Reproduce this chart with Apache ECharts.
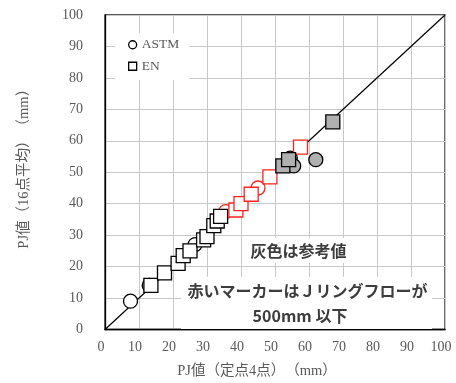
<!DOCTYPE html>
<html>
<head>
<meta charset="utf-8">
<script src="https://cdn.jsdelivr.net/npm/echarts@6/dist/echarts.min.js"></script>
<style>
  html, body { margin: 0; padding: 0; background: #fff; }
  #chart { width: 456px; height: 383px; }
</style>
</head>
<body>
<div id="chart"></div>
<script>
// Axis range shared by both axes (mm)
const axisMin = 0;
const axisMax = 100;
const axisStep = 10;

// ASTM results [PJ 4-point, PJ 16-point mean]
const astmWhite = [[7.5, 9], [13, 14], [26.5, 27]];
const astmRed = [[35.5, 37.5], [45, 45]];
const astmGray = [[54.5, 54.5], [55.5, 52], [62, 54]];

// EN results [PJ 4-point, PJ 16-point mean]
const enWhite = [[13.5, 14], [17.5, 18], [21.5, 21], [23, 23.5], [25, 25],
                 [29, 28.5], [30, 29.5], [32, 33], [33, 34.5], [34, 36]];
const enRed = [[38.5, 38], [40, 40], [43, 43], [48.5, 48.5], [57.5, 58]];
const enGray = [[52.3, 52], [54, 54], [67, 66]];

// 1:1 reference line
const equalityLine = [[0, 0], [100, 100]];

const xAxisTitle = 'PJ値（定点4点）　（mm）';
const yAxisTitle = 'PJ値（16点平均）　（mm）';
const noteGray = '灰色は参考値';
const noteRedLine1 = '赤いマーカーはＪリングフローが';
const noteRedLine2 = '500mm 以下';

const serif = "'Liberation Serif', 'Noto Sans CJK JP', serif";
const sans = "'Noto Sans CJK JP', 'Noto Sans', sans-serif";
const labelGray = '#595959';
const noteColor = '#3c3c3c';

function scatter(name, data, symbol, fill, stroke, z) {
  return {
    name: name,
    type: 'scatter',
    data: data,
    symbol: symbol,
    symbolSize: 14,
    z: z,
    itemStyle: { color: fill, borderColor: stroke, borderWidth: 1.3, opacity: 1 },
    emphasis: { disabled: true }
  };
}

const chart = echarts.init(document.getElementById('chart'), null, { renderer: 'canvas' });

chart.setOption({
  animation: false,
  backgroundColor: '#fff',
  grid: {
    left: 105, right: 11, top: 15, bottom: 53,
    show: true, borderColor: '#222', borderWidth: 1.3, backgroundColor: 'transparent'
  },
  xAxis: {
    type: 'value', min: axisMin, max: axisMax, interval: axisStep,
    name: xAxisTitle, nameLocation: 'middle', nameGap: 34,
    nameTextStyle: { fontFamily: serif, fontSize: 14.5, color: labelGray, padding: [0, 36, 0, 0] },
    axisLine: { lineStyle: { color: '#000', width: 1.3 } },
    axisTick: { show: false },
    axisLabel: { fontFamily: serif, fontSize: 14, color: labelGray, margin: 11, padding: [0, 8, 0, 0] },
    splitLine: { lineStyle: { color: '#c8c8c8', width: 1 } }
  },
  yAxis: {
    type: 'value', min: axisMin, max: axisMax, interval: axisStep,
    name: yAxisTitle, nameLocation: 'middle', nameGap: 74, nameRotate: 90,
    nameTextStyle: { fontFamily: serif, fontSize: 14.5, color: labelGray, padding: [0, 0, 0, 14] },
    axisLine: { lineStyle: { color: '#000', width: 1.3 } },
    axisTick: { show: false },
    axisLabel: { fontFamily: serif, fontSize: 14, color: labelGray, margin: 22 },
    splitLine: { lineStyle: { color: '#c8c8c8', width: 1 } }
  },
  legend: {
    orient: 'vertical', left: 115, top: 33,
    backgroundColor: '#fff',
    padding: [5, 10, 7, 13],
    itemGap: 8, itemWidth: 8, itemHeight: 8,
    textStyle: { fontFamily: serif, fontSize: 13.5, color: labelGray },
    data: [
      { name: 'ASTM', icon: 'circle', itemStyle: { color: '#fff', borderColor: '#000', borderWidth: 1.3 } },
      { name: 'EN', icon: 'rect', itemStyle: { color: '#fff', borderColor: '#000', borderWidth: 1.3 } }
    ]
  },
  graphic: [
    // white backing panels for the two notes
    { type: 'rect', z: 50, shape: { x: 245, y: 238, width: 107, height: 25 }, style: { fill: '#fff' }, silent: true },
    { type: 'rect', z: 50, shape: { x: 181, y: 277, width: 251, height: 52 }, style: { fill: '#fff' }, silent: true },
    {
      type: 'text', z: 51, x: 298.5, y: 251, silent: true,
      style: { text: noteGray, font: 'bold 16px ' + sans, fill: noteColor, align: 'center', verticalAlign: 'middle' }
    },
    {
      type: 'text', z: 51, x: 307.5, y: 291, silent: true,
      style: { text: noteRedLine1, font: 'bold 16px ' + sans, fill: noteColor, align: 'center', verticalAlign: 'middle' }
    },
    {
      type: 'text', z: 51, x: 300, y: 316, silent: true,
      style: { text: noteRedLine2, font: 'bold 16px ' + sans, fill: noteColor, align: 'center', verticalAlign: 'middle' }
    }
  ],
  series: [
    {
      type: 'line', data: equalityLine, showSymbol: false, z: 1,
      lineStyle: { color: '#000', width: 1.2 }, silent: true
    },
    scatter('ASTM', astmWhite, 'circle', '#fff', '#000', 2),
    scatter('ASTM-red', astmRed, 'circle', '#fff', '#ff2020', 2),
    scatter('ASTM-gray', astmGray, 'circle', '#b0b0b0', '#000', 2),
    scatter('EN', enWhite, 'rect', '#fff', '#000', 3),
    scatter('EN-red', enRed, 'rect', '#fff', '#ff2020', 3),
    scatter('EN-gray', enGray, 'rect', '#b0b0b0', '#000', 3)
  ]
});
</script>
</body>
</html>
